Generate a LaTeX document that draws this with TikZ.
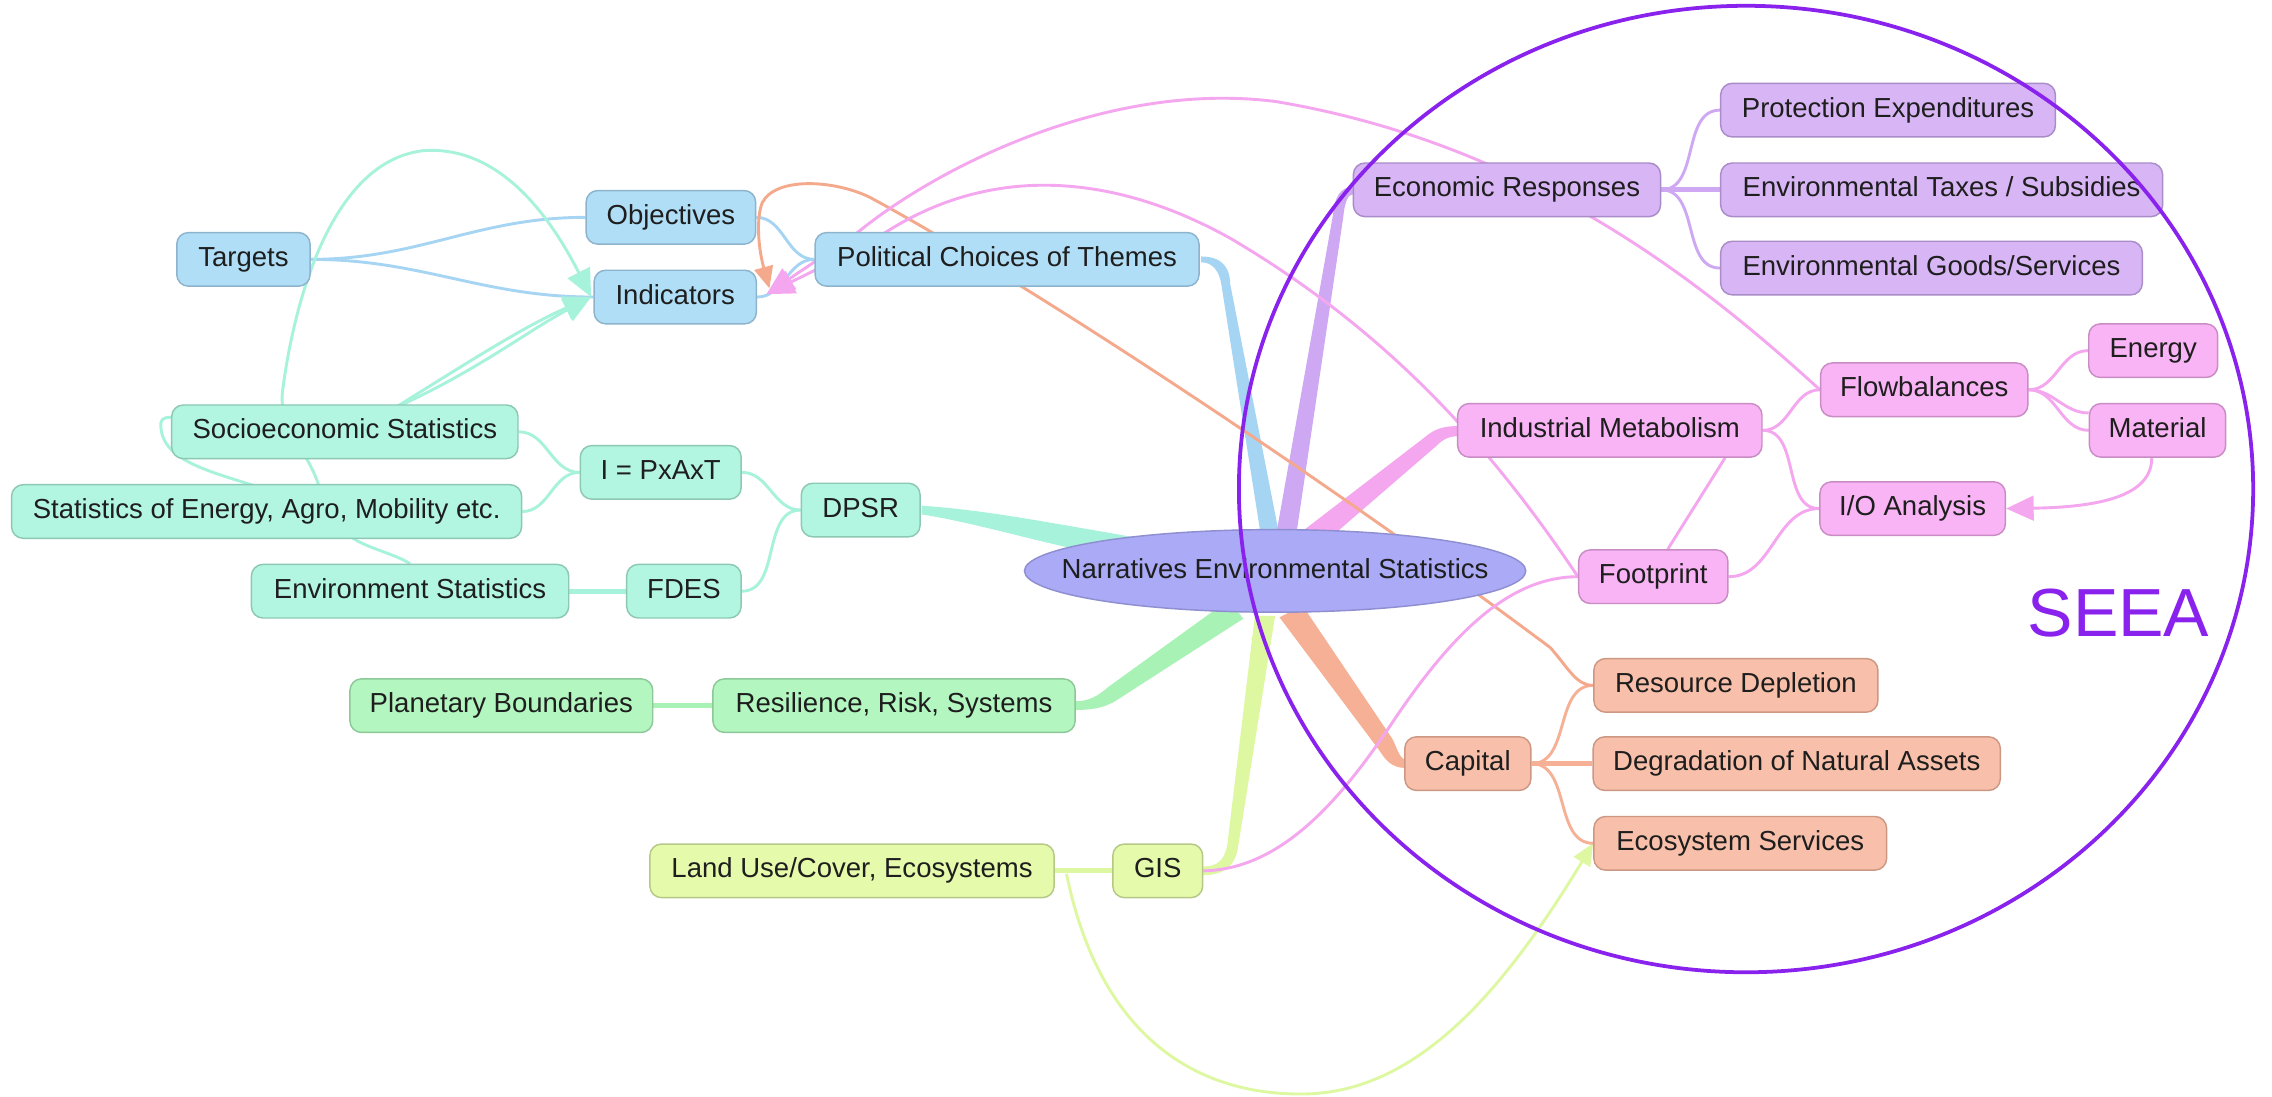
\documentclass[tikz,border=0pt]{standalone}
\usepackage{fontspec}
\setmainfont{Liberation Sans}
\usetikzlibrary{shapes.geometric,arrows.meta,calc}
\pgfdeclarelayer{bg}
\pgfsetlayers{bg,main}
\definecolor{bfill}{HTML}{B0DEF6}\definecolor{bdraw}{HTML}{8DB4CC}\definecolor{bline}{HTML}{A6D5F3}
\definecolor{tfill}{HTML}{B2F6E2}\definecolor{tdraw}{HTML}{8CC8B2}\definecolor{tline}{HTML}{A6F2DA}
\definecolor{gfill}{HTML}{B4F6C0}\definecolor{gdraw}{HTML}{8CC898}\definecolor{gline}{HTML}{A8F2B6}
\definecolor{yfill}{HTML}{E6FAAC}\definecolor{ydraw}{HTML}{B6C886}\definecolor{yline}{HTML}{DEF8A2}
\definecolor{pfill}{HTML}{D8B6F6}\definecolor{pdraw}{HTML}{A98CC8}\definecolor{pline}{HTML}{CFA8F4}
\definecolor{kfill}{HTML}{F8B4F4}\definecolor{kdraw}{HTML}{C98CC4}\definecolor{kline}{HTML}{F4A6EE}
\definecolor{sfill}{HTML}{F8C0AA}\definecolor{sdraw}{HTML}{CC9884}\definecolor{sline}{HTML}{F6B096}
\definecolor{oline}{HTML}{F5A98C}
\definecolor{efill}{HTML}{AAAAF6}\definecolor{edraw}{HTML}{8E8ED0}
\definecolor{seea}{HTML}{8A22EE}
\definecolor{txt}{HTML}{1E1E1E}
\tikzset{
  box/.style={rectangle, rounded corners=8pt, minimum height=37pt, inner xsep=0pt, inner ysep=0pt,
    line width=1pt, font=\fontsize{19}{22}\selectfont, text=txt, text height=13.6pt, text depth=3.8pt},
  bluebox/.style={box, fill=bfill, draw=bdraw},
  tealbox/.style={box, fill=tfill, draw=tdraw},
  greenbox/.style={box, fill=gfill, draw=gdraw},
  yelbox/.style={box, fill=yfill, draw=ydraw},
  purbox/.style={box, fill=pfill, draw=pdraw},
  pinkbox/.style={box, fill=kfill, draw=kdraw},
  salbox/.style={box, fill=sfill, draw=sdraw},
  edgeln/.style={line width=2pt},
  edgemid/.style={line width=3.5pt},
  tipped/.style={-{Triangle[length=19pt,width=17pt]}},
  tippedsmall/.style={-{Triangle[length=15pt,width=13pt]}}
}
\begin{document}
\begin{tikzpicture}[x=1pt,y=-1pt]
\useasboundingbox (0,0) rectangle (1568,757);
% ---------- nodes ----------
\node[bluebox, minimum width=92pt]  (targets)    at (168,179) {Targets};
\node[bluebox, minimum width=117pt] (objectives) at (463,150) {Objectives};
\node[bluebox, minimum width=112pt] (indicators) at (466,205) {Indicators};
\node[bluebox, minimum width=265pt] (political)  at (695,179) {Political Choices of Themes};
\node[tealbox, minimum width=239pt] (socio)      at (238,298) {Socioeconomic Statistics};
\node[tealbox, minimum width=352pt] (stats)      at (184,353) {Statistics of Energy, Agro, Mobility etc.};
\node[tealbox, minimum width=111pt] (ipat)       at (456,326) {I = PxAxT};
\node[tealbox, minimum width=82pt]  (dpsr)       at (594,352) {DPSR};
\node[tealbox, minimum width=219pt] (envstat)    at (283,408) {Environment Statistics};
\node[tealbox, minimum width=79pt]  (fdes)       at (472,408) {FDES};
\node[greenbox, minimum width=209pt] (planetary) at (346,487) {Planetary Boundaries};
\node[greenbox, minimum width=250pt] (resilience) at (617,487) {Resilience, Risk, Systems};
\node[yelbox, minimum width=279pt]  (landuse)    at (588,601) {Land Use/Cover, Ecosystems};
\node[yelbox, minimum width=62pt]   (gis)        at (799,601) {GIS};
\node[purbox, minimum width=212pt]  (econ)       at (1040,131) {Economic Responses};
\node[purbox, minimum width=231pt]  (protect)    at (1303,76) {Protection Expenditures};
\node[purbox, minimum width=305pt]  (taxes)      at (1340,131) {Environmental Taxes / Subsidies};
\node[purbox, minimum width=291pt]  (goods)      at (1333,185) {Environmental Goods/Services};
\node[pinkbox, minimum width=210pt] (indmet)     at (1111,297) {Industrial Metabolism};
\node[pinkbox, minimum width=143pt] (flow)       at (1328,269) {Flowbalances};
\node[pinkbox, minimum width=89pt]  (energy)     at (1486,242) {Energy};
\node[pinkbox, minimum width=94pt]  (material)   at (1489,297) {Material};
\node[pinkbox, minimum width=128pt] (io)         at (1320,351) {I/O Analysis};
\node[pinkbox, minimum width=103pt] (footprint)  at (1141,398) {Footprint};
\node[salbox, minimum width=196pt]  (resdep)     at (1198,473) {Resource Depletion};
\node[salbox, minimum width=87pt]   (capital)    at (1013,527) {Capital};
\node[salbox, minimum width=281pt]  (degrad)     at (1240,527) {Degradation of Natural Assets};
\node[salbox, minimum width=202pt]  (ecoserv)    at (1201,582) {Ecosystem Services};
\coordinate (indtip)  at (529,203);
\coordinate (indtipo) at (531,199);
\coordinate (indtipw) at (408,205);
% ---------- connectors (background) ----------
\begin{pgfonlayer}{bg}
\fill[white] (0,0) rectangle (1568,757);
% tapered main branches
\fill[bline] (829,177) .. controls (846,177) and (849,188) .. (849,196) -- (884,375) -- (871,375) -- (843,197) .. controls (842,189) and (838,181) .. (829,181) -- cycle;
\fill[pline] (934,129) .. controls (925,129) and (921,136) .. (920,148) -- (880,373) -- (894,373) -- (927,150) .. controls (928,140) and (930,134) .. (934,134) -- cycle;
\fill[kline] (1007,294) .. controls (996,294) and (990,296) .. (983,302) -- (897,368) -- (910,378) -- (991,308) .. controls (996,303) and (1000,301) .. (1007,301) -- cycle;
\fill[tline] (636,349) .. controls (680,352) and (720,360) .. (790,372) -- (787,388) .. controls (720,376) and (680,362) .. (636,355) -- cycle;
\fill[gline] (742,484) .. controls (752,484) and (758,480) .. (765,474) -- (848,414) -- (858,427) -- (771,483) .. controls (762,489) and (752,490) .. (742,490) -- cycle;
\fill[yline] (830,598) .. controls (840,598) and (845,594) .. (847,583) -- (866,425) -- (880,425) -- (854,587) .. controls (851,600) and (842,604) .. (830,604) -- cycle;
\fill[sline] (899,418) -- (961,510) .. controls (964,516) and (966,524) .. (970,524) -- (970,530) .. controls (960,530) and (956,524) .. (952,518) -- (883,426) -- cycle;
% blue
\draw[edgeln, bline] (targets.east) to[out=0,in=180] (objectives.west);
\draw[edgeln, bline] (targets.east) to[out=0,in=180] (indicators.west);
\draw[edgeln, bline] (objectives.east) to[out=0,in=180] (political.west);
\draw[edgeln, bline] (indicators.east) to[out=0,in=180] (political.west);
% teal
\draw[edgeln, tline] (socio.east) to[out=0,in=180] (ipat.west);
\draw[edgeln, tline] (stats.east) to[out=0,in=180] (ipat.west);
\draw[edgeln, tline] (ipat.east) to[out=0,in=180] (dpsr.west);
\draw[edgeln, tline] (fdes.east) to[out=0,in=180] (dpsr.west);
\draw[edgemid, tline] (envstat.east) -- (fdes.west);
\draw[edgeln, tline, tipped] (envstat.north) .. controls (262,376) and (228,378) .. (220,335)
   .. controls (212,310) and (192,295) .. (195,270) .. controls (201,222) and (224,112) .. (292,104)
   .. controls (345,100) and (380,150) .. (indtipw);
\draw[edgeln, tline, tipped] ([xshift=24pt,yshift=10pt]socio.center) .. controls (320,252) and (360,226) .. (indtipw);
\draw[edgeln, tline, tipped] ([xshift=6pt,yshift=-6pt]stats.north) .. controls (150,326) and (110,320) .. (111,292)
   .. controls (112,284) and (125,290) .. (170,292) .. controls (230,294) and (250,288) .. (278,279)
   .. controls (330,255) and (365,228) .. (indtipw);
% green / yellow
\draw[edgemid, gline] (planetary.east) -- (resilience.west);
\draw[edgemid, yline] (landuse.east) -- (gis.west);
\draw[edgeln, yline, tippedsmall] ([xshift=8pt,yshift=-2pt]landuse.east) .. controls (760,720) and (830,756) .. (900,755)
   .. controls (980,754) and (1040,680) .. (ecoserv.west);
% purple
\draw[edgeln, pline] (econ.east) to[out=0,in=180] (protect.west);
\draw[edgemid, pline] (econ.east) -- (taxes.west);
\draw[edgeln, pline] (econ.east) to[out=0,in=180] (goods.west);
% salmon
\draw[edgeln, sline] (capital.east) to[out=0,in=180] (resdep.west);
\draw[edgemid, sline] (capital.east) -- (degrad.west);
\draw[edgeln, sline] (capital.east) to[out=0,in=180] (ecoserv.west);
\draw[edgeln, oline, tippedsmall] (resdep.west) .. controls (1088,473) and (1083,462) .. (1070,447)
   .. controls (900,320) and (700,190) .. (600,136) .. controls (575,124) and (535,122) .. (526,140)
   .. controls (522,150) and (523,170) .. (indtipo);
% pink
\draw[edgeln, kline] (indmet.east) to[out=0,in=180] (flow.west);
\draw[edgeln, kline] (indmet.east) to[out=0,in=180] (io.west);
\draw[edgeln, kline] (flow.east) to[out=0,in=180] (energy.west);
\draw[edgeln, kline] (flow.east) to[out=0,in=180] ([yshift=12pt]material.west);
\draw[edgeln, kline] (flow.east) to[out=0,in=180] (material.west);
\draw[edgeln, kline] (footprint.east) to[out=0,in=180] (io.west);
\draw[edgeln, kline] ([xshift=10pt]footprint.north) -- ([xshift=-26pt]indmet.south east);
\draw[edgeln, kline] (gis.east) .. controls (880,600) and (920,560) .. (960,500)
   .. controls (1000,440) and (1040,398) .. (footprint.west);
\draw[edgeln, kline, tipped] ([xshift=-4pt]material.south) .. controls (1485,342) and (1450,350) .. (io.east);
\draw[edgeln, kline, tipped] (flow.west) .. controls (1180,200) and (1060,100) .. (880,70)
   .. controls (760,55) and (640,120) .. (590,162) -- (indtip);
\draw[edgeln, kline, tipped] (footprint.west) .. controls (1030,310) and (960,230) .. (850,165)
   .. controls (770,120) and (680,110) .. (600,168) -- (indtip);
\end{pgfonlayer}
% ---------- hub ----------
\node[ellipse, fill=efill, draw=edraw, line width=1pt, minimum width=346pt, minimum height=57pt, inner sep=0pt] (hub) at (880,394) {};
\node[font=\fontsize{19}{22}\selectfont, text=txt, text height=13.6pt, text depth=3.8pt] (hubtext) at (hub.center) {Narratives Environmental Statistics};
% ---------- SEEA ----------
\node[draw=seea, line width=2.6pt, ellipse, minimum width=700pt, minimum height=667pt, inner sep=0pt] (seeacircle) at (1205,337.5) {};
\node[text=seea, font=\fontsize{47}{50}\selectfont] (seealabel) at (1462,423) {SEEA};
\end{tikzpicture}
\end{document}
